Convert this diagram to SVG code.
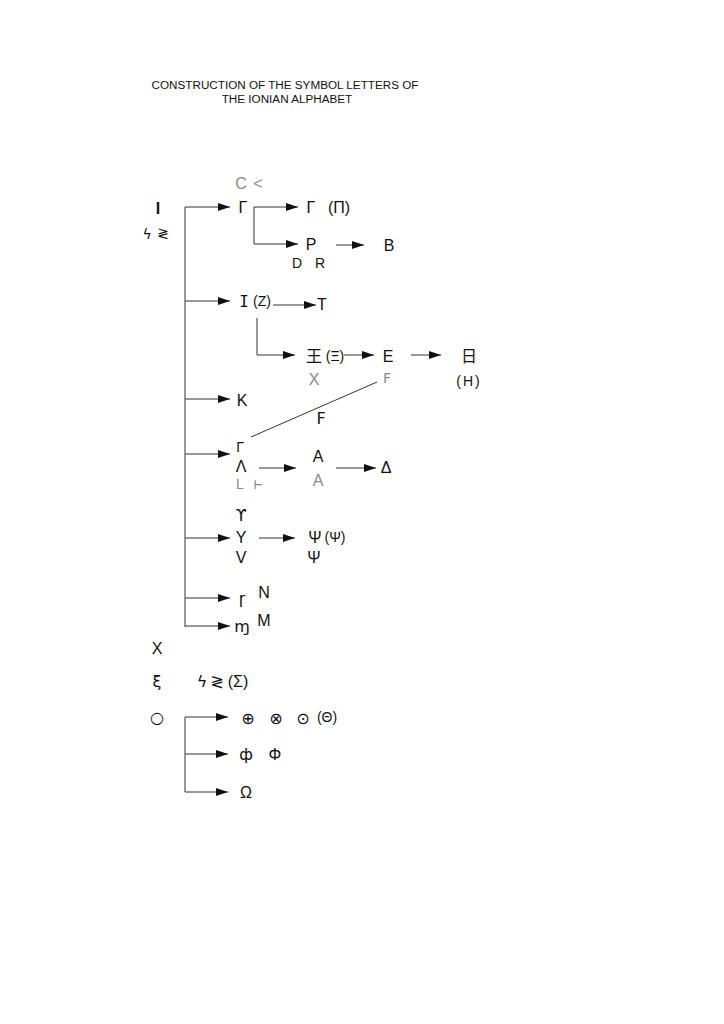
<svg xmlns="http://www.w3.org/2000/svg" width="724" height="1024" viewBox="0 0 724 1024">
<style>
text{font-family:"Liberation Sans","DejaVu Sans","Noto Sans CJK SC",sans-serif;fill:#111;font-size:16px;text-anchor:middle}
.t{font-size:11.7px}
.g{fill:#8a8a8a}
.s{font-size:14px}
.d{font-family:"DejaVu Sans",sans-serif}
.m{font-family:"DejaVu Sans Mono",monospace}
#conn line,#conn polyline{stroke:#333;stroke-width:1;fill:none}
</style>
<defs>
<marker id="a" markerWidth="12" markerHeight="8" refX="12" refY="4" orient="auto" markerUnits="userSpaceOnUse">
<path d="M0,0 L12,4 L0,8 z" fill="#111"/>
</marker>
</defs>
<g id="title">
<text class="t" x="285" y="89">CONSTRUCTION OF THE SYMBOL LETTERS OF</text>
<text class="t" x="287" y="103">THE IONIAN ALPHABET</text>
</g>
<g id="conn">
<line x1="185" y1="207" x2="185" y2="627"/>
<line x1="185" y1="207" x2="230" y2="207" marker-end="url(#a)"/>
<line x1="185" y1="301" x2="230" y2="301" marker-end="url(#a)"/>
<line x1="185" y1="399" x2="230" y2="399" marker-end="url(#a)"/>
<line x1="185" y1="454" x2="230" y2="454" marker-end="url(#a)"/>
<line x1="185" y1="538" x2="230" y2="538" marker-end="url(#a)"/>
<line x1="185" y1="598" x2="230" y2="598" marker-end="url(#a)"/>
<line x1="185" y1="626" x2="230" y2="626" marker-end="url(#a)"/>
<line x1="254" y1="207" x2="298" y2="207" marker-end="url(#a)"/>
<polyline points="254,207 254,244 298,244" marker-end="url(#a)"/>
<line x1="336" y1="245" x2="364" y2="245" marker-end="url(#a)"/>
<line x1="273" y1="305" x2="316" y2="305" marker-end="url(#a)"/>
<polyline points="257,318 257,355 295,355" marker-end="url(#a)"/>
<line x1="344" y1="355" x2="374" y2="355" marker-end="url(#a)"/>
<line x1="411" y1="355" x2="441" y2="355" marker-end="url(#a)"/>
<line x1="251" y1="437" x2="377" y2="382"/>
<line x1="259" y1="468" x2="296" y2="468" marker-end="url(#a)"/>
<line x1="336" y1="468" x2="376" y2="468" marker-end="url(#a)"/>
<line x1="259" y1="538" x2="295" y2="538" marker-end="url(#a)"/>
<line x1="185" y1="717" x2="185" y2="792"/>
<line x1="185" y1="717" x2="228" y2="717" marker-end="url(#a)"/>
<line x1="185" y1="754" x2="228" y2="754" marker-end="url(#a)"/>
<line x1="185" y1="792" x2="228" y2="792" marker-end="url(#a)"/>
</g>
<g id="n-iota"><text x="158" y="214" style="font-weight:bold">I</text><text class="s d" x="147" y="239">ϟ</text><text class="s d" x="163" y="238">≷</text></g>
<g id="n-gamma"><text class="g" x="241" y="189">C</text><text class="g" x="258" y="189">&lt;</text><text x="243" y="213">Γ</text></g>
<g id="n-pi"><text x="311" y="213">Γ</text><text x="339" y="213">(Π)</text></g>
<g id="n-rho"><text x="311" y="250">P</text><text class="s" x="297" y="268">D</text><text class="s" x="320" y="268">R</text></g>
<g id="n-beta"><text x="389" y="251">B</text></g>
<g id="n-zeta"><text x="244" y="307" class="m">I</text><text class="s" x="262" y="306">(Z)</text></g>
<g id="n-tau"><text x="322" y="310">T</text></g>
<g id="n-xi"><text x="314" y="362" font-size="15" font-family="Noto Sans CJK SC">王</text><text class="s" x="335" y="361">(Ξ)</text><text class="g" x="314" y="385">X</text></g>
<g id="n-epsilon"><text x="388" y="362">E</text><text class="s g d" x="387" y="383">Ϝ</text></g>
<g id="n-eta"><text x="469" y="362" font-size="15" font-family="Noto Sans CJK SC">日</text><text class="s" x="469" y="386" letter-spacing="2">(H)</text></g>
<g id="n-kappa"><text x="242" y="406">K</text></g>
<g id="n-digamma"><text class="d" x="321" y="424">Ϝ</text></g>
<g id="n-lambda"><text class="s" x="240" y="452">Γ</text><text x="241" y="472">Λ</text><text class="s g" x="240" y="489">L</text><text class="s g m" x="258" y="489">⊢</text></g>
<g id="n-alpha"><text x="318" y="462">A</text><text class="g" x="318" y="486">A</text></g>
<g id="n-delta"><text x="386" y="473">Δ</text></g>
<g id="n-upsilon"><text class="d" x="241" y="521">ϒ</text><text x="241" y="543">Y</text><text x="241" y="563">V</text></g>
<g id="n-psi"><text x="315" y="543">Ψ</text><text class="s" x="335" y="542">(Ψ)</text><text x="314" y="563">Ψ</text></g>
<g id="n-nu"><text class="d" x="242" y="604">ɼ</text><text x="264" y="598">N</text></g>
<g id="n-mu"><text class="d" x="242" y="632">ɱ</text><text x="264" y="626">M</text></g>
<g id="n-chi"><text x="157" y="654">X</text></g>
<g id="n-sigma"><text class="d" x="157" y="687">ξ</text><text class="d" x="202" y="687">ϟ</text><text class="d" x="217" y="687">≷</text><text x="238" y="687">(Σ)</text></g>
<g id="n-omicron"><text class="d" x="157" y="723" font-size="18">○</text></g>
<g id="n-theta"><text class="d" x="248" y="724" font-size="21">⊕</text><text class="d" x="276" y="724" font-size="21">⊗</text><text class="d" x="303" y="724" font-size="21">⊙</text><text class="s" x="327" y="722">(Θ)</text></g>
<g id="n-phi"><text class="d" x="246" y="760" font-size="17">ф</text><text x="275" y="760" font-size="17">Φ</text></g>
<g id="n-omega"><text x="246" y="798">Ω</text></g>
</svg>
